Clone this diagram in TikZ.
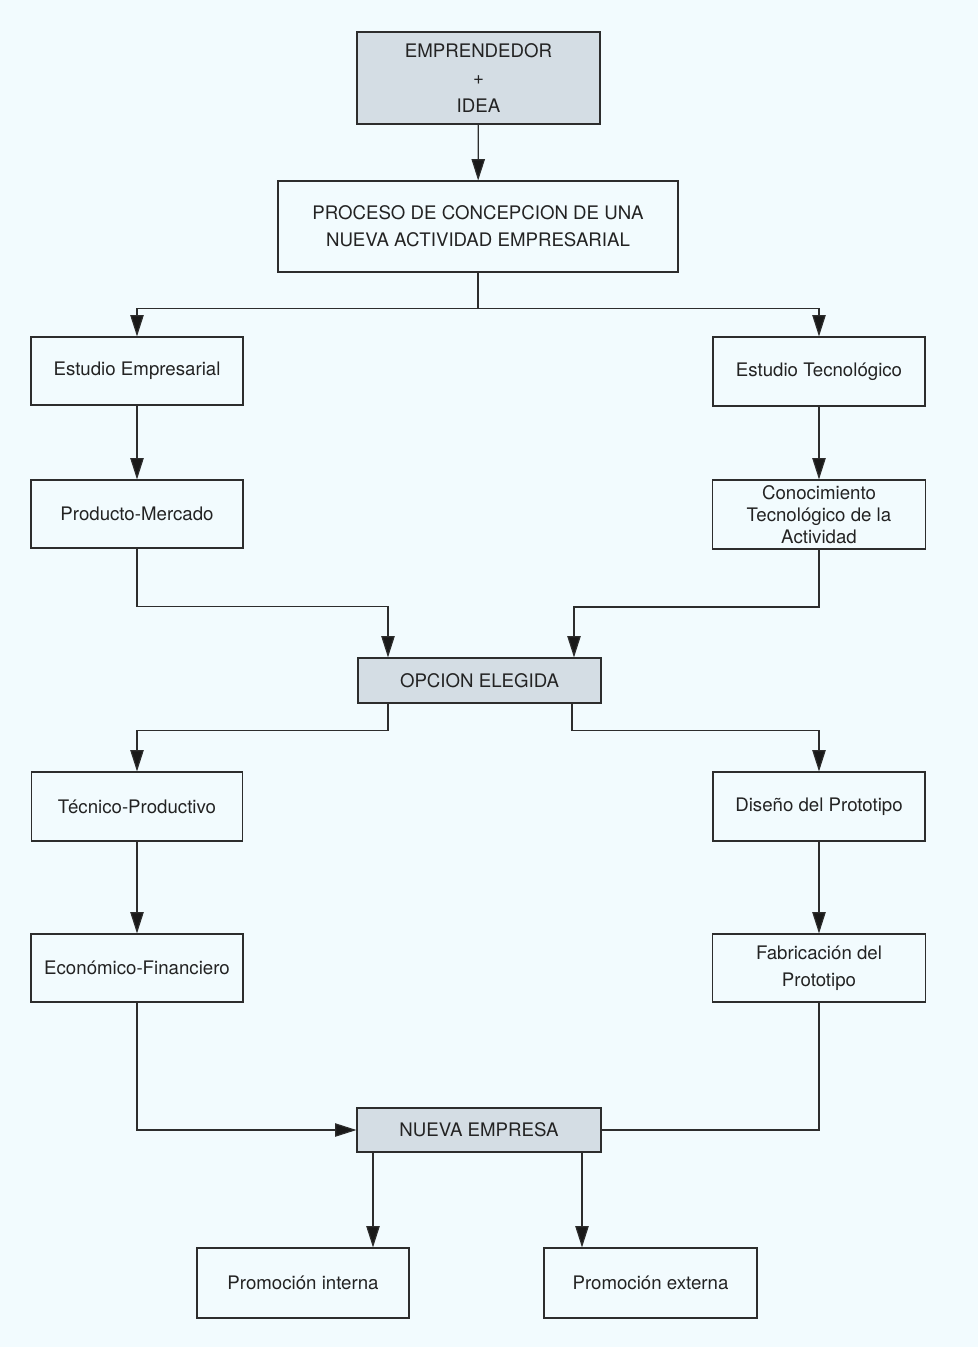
\documentclass[tikz,border=0pt]{standalone}
\usepackage{fontspec}
\setmainfont{TeX Gyre Heros}
\usetikzlibrary{arrows.meta,calc}
\definecolor{bgc}{RGB}{242,251,254}
\definecolor{shade}{RGB}{212,221,228}
\definecolor{ink}{RGB}{35,35,35}
\definecolor{linec}{RGB}{45,45,45}
\begin{document}
\begin{tikzpicture}[x=0.75pt,y=-0.75pt,
  box/.style={draw=linec,line width=0.8pt,fill=bgc,text=ink,align=center,inner sep=0pt,
    font=\fontsize{14}{16.5}\selectfont},
  shaded/.style={box,fill=shade},
  conn/.style={draw=linec,line width=0.9pt},
  arr/.style={conn,-{Triangle[length=16pt,width=10pt,fill=black!90]}}]
\fill[bgc] (0,0) rectangle (978,1347);
\useasboundingbox (0,0) rectangle (978,1347);
% nodes
\node[shaded,minimum width=243*0.75pt,minimum height=92*0.75pt,font=\fontsize{14}{20.5}\selectfont] (emp) at (478.5,78) {EMPRENDEDOR\\+\\IDEA};
\node[box,minimum width=400*0.75pt,minimum height=91*0.75pt,font=\fontsize{14}{20.5}\selectfont] (proc) at (478,226.5) {PROCESO DE CONCEPCION DE UNA\\NUEVA ACTIVIDAD EMPRESARIAL};
\node[box,minimum width=212*0.75pt,minimum height=68*0.75pt] (ee) at (137,371) {Estudio Empresarial};
\node[box,minimum width=212*0.75pt,minimum height=69*0.75pt] (et) at (819,371.5) {Estudio Tecnológico};
\node[box,minimum width=212*0.75pt,minimum height=68*0.75pt] (pm) at (137,514) {Producto-Mercado};
\node[box,minimum width=213*0.75pt,minimum height=69*0.75pt] (ct) at (819,514.5) {Conocimiento\\Tecnológico de la\\Actividad};
\node[shaded,minimum width=243*0.75pt,minimum height=45*0.75pt] (op) at (479.5,680.5) {OPCION ELEGIDA};
\node[box,minimum width=211*0.75pt,minimum height=69*0.75pt] (tp) at (137,806.5) {Técnico-Productivo};
\node[box,minimum width=212*0.75pt,minimum height=69*0.75pt] (dp) at (819,806.5) {Diseño del Prototipo};
\node[box,minimum width=212*0.75pt,minimum height=68*0.75pt] (ef) at (137,968) {Económico-Financiero};
\node[box,minimum width=213*0.75pt,minimum height=68*0.75pt,font=\fontsize{14}{20.5}\selectfont] (fp) at (819,968) {Fabricación del\\Prototipo};
\node[shaded,minimum width=244*0.75pt,minimum height=44*0.75pt] (ne) at (479,1130) {NUEVA EMPRESA};
\node[box,minimum width=212*0.75pt,minimum height=70*0.75pt] (pi) at (303,1283) {Promoción interna};
\node[box,minimum width=213*0.75pt,minimum height=70*0.75pt] (pe) at (650.5,1283) {Promoción externa};
% coordinates
\coordinate (j1) at ($(proc.south)+(0,36)$);
\coordinate (opL) at ($(op.north)+(-91.5,0)$);
\coordinate (opR) at ($(op.north)+(94.5,0)$);
\coordinate (opBL) at ($(op.south)+(-91.5,0)$);
\coordinate (opBR) at ($(op.south)+(92.5,0)$);
\coordinate (neBL) at ($(ne.south)+(-106,0)$);
\coordinate (neBR) at ($(ne.south)+(103,0)$);
% connectors
\draw[arr] (emp) -- (proc);
\draw[conn] (proc.south) -- (j1);
\draw[arr] (j1) -| (ee.north);
\draw[arr] (j1) -| (et.north);
\draw[arr] (ee) -- (pm);
\draw[arr] (et) -- (ct);
\draw[arr] (pm.south) -- ++(0,58) -| (opL);
\draw[arr] (ct.south) -- ++(0,57.5) -| (opR);
\draw[arr] (opBL) -- ++(0,27) -| (tp.north);
\draw[arr] (opBR) -- ++(0,27) -| (dp.north);
\draw[arr] (tp) -- (ef);
\draw[arr] (dp) -- (fp);
\draw[arr] (ef.south) |- (ne.west);
\draw[conn] (fp.south) |- (ne.east);
\draw[arr] (neBL) -- (neBL |- pi.north);
\draw[arr] (neBR) -- (neBR |- pe.north);
\end{tikzpicture}
\end{document}
